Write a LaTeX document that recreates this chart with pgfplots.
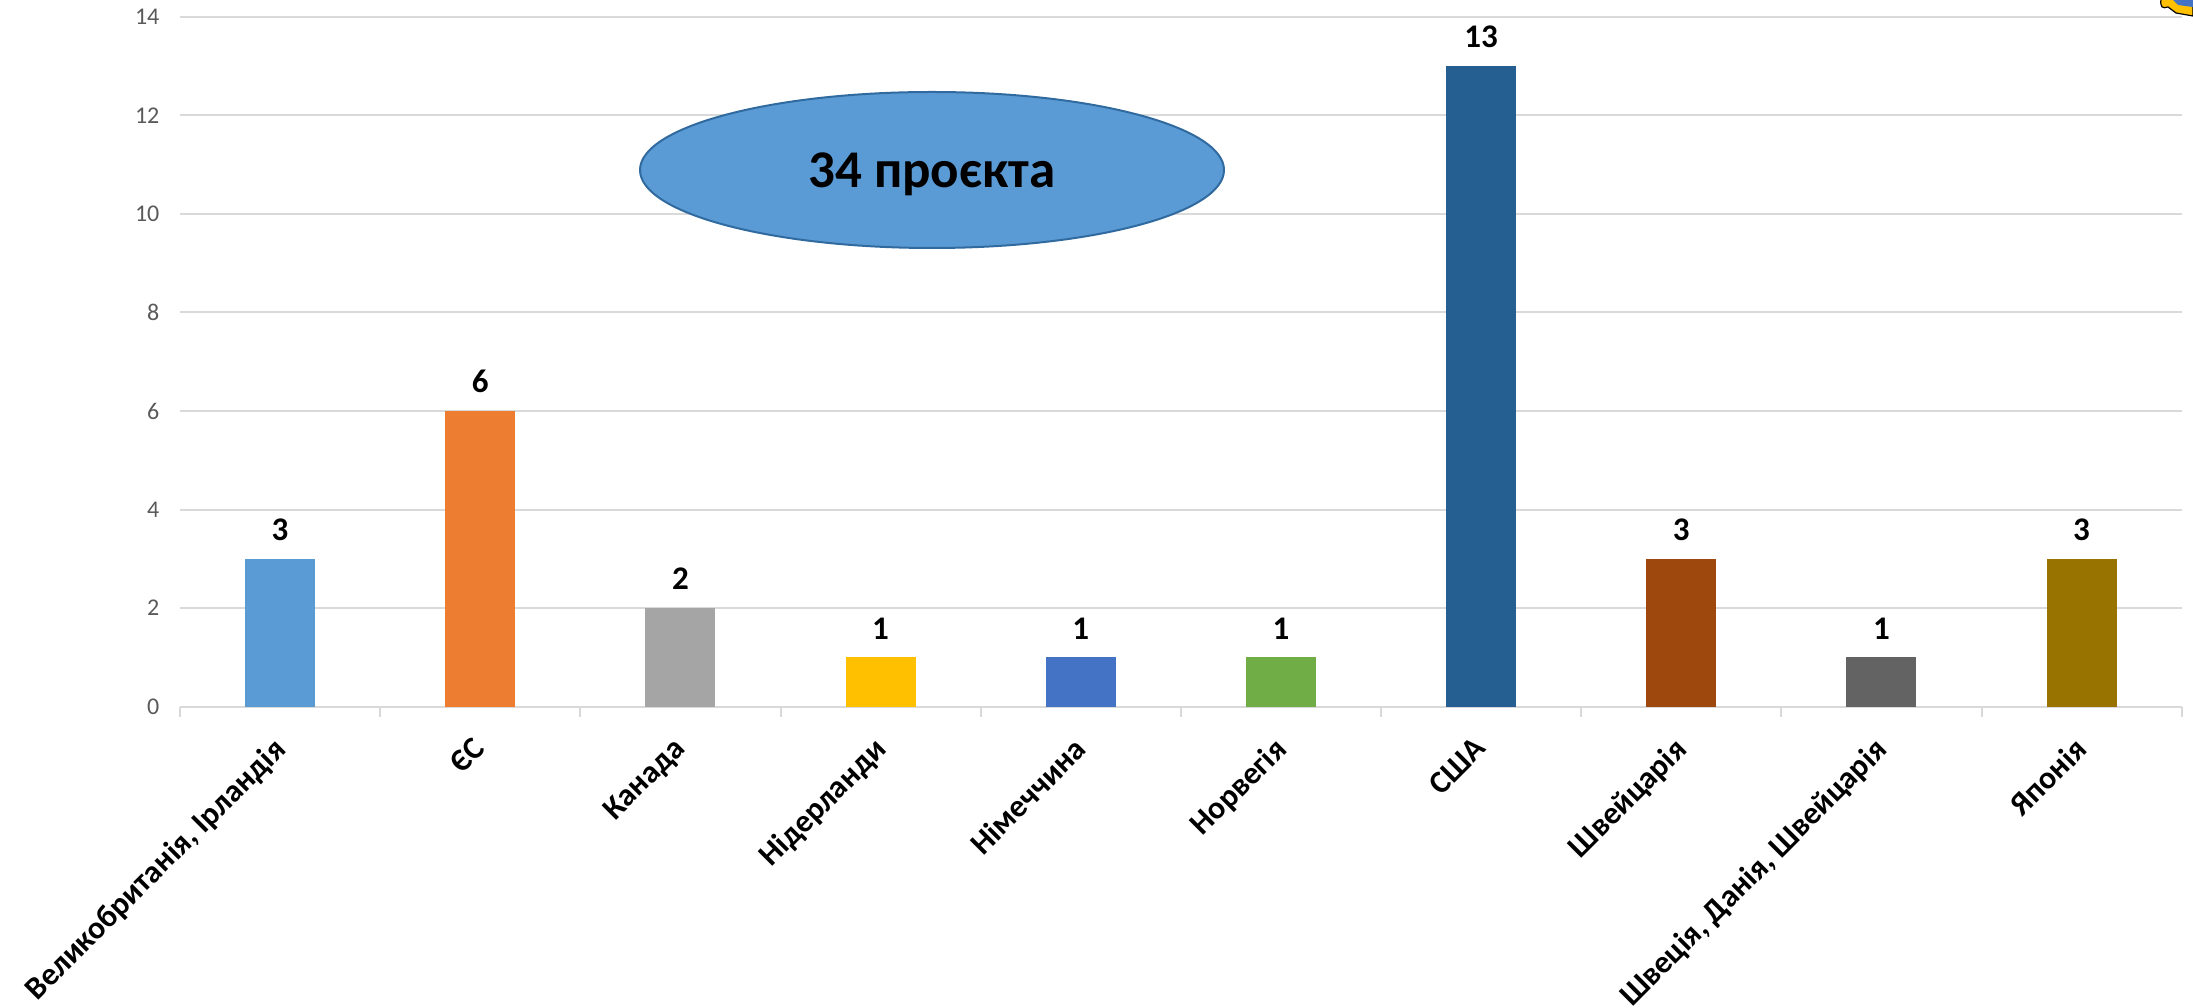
\documentclass[border=0pt]{standalone}
\usepackage{pgfplots}
\pgfplotsset{compat=1.18}
\usepackage{fontspec}
\setmainfont{Carlito}
\definecolor{c0}{HTML}{5B9BD5}
\definecolor{c1}{HTML}{ED7D31}
\definecolor{c2}{HTML}{A5A5A5}
\definecolor{c3}{HTML}{FFC000}
\definecolor{c4}{HTML}{4472C4}
\definecolor{c5}{HTML}{70AD47}
\definecolor{c6}{HTML}{255E91}
\definecolor{c7}{HTML}{9E480E}
\definecolor{c8}{HTML}{636363}
\definecolor{c9}{HTML}{997300}
\definecolor{gridc}{HTML}{D9D9D9}
\definecolor{tickc}{HTML}{595959}
\begin{document}
\begin{tikzpicture}
\path[use as bounding box] (0pt,0pt) rectangle (1096.5pt,503.5pt);
\begin{axis}[
  at={(90pt,150.15pt)}, anchor=south west,
  scale only axis, width=1000.8pt, height=345pt,
  xmin=-0.5, xmax=9.5, ymin=0, ymax=14,
  axis lines=left, x axis line style={gridc,line width=1.2pt,-}, y axis line style={draw=none},
  ytick={0,2,...,14}, ymajorgrids, grid style={gridc,line width=1pt},
  major y tick style={draw=none},
  xtick={0,...,9},
  xticklabels={{Великобританія, Ірландія},ЄС,Канада,Нідерланди,Німеччина,Норвегія,США,Швейцарія,{Швеція, Данія, Швейцарія},Японія},
  x tick label style={rotate=45,anchor=north east,font=\fontsize{15.9pt}{18pt}\selectfont\bfseries,black,inner sep=0pt,yshift=-4pt,xshift=-10pt},
  y tick label style={font=\fontsize{12pt}{14pt}\selectfont,tickc,xshift=-2.5pt},
  /pgf/number format/assume math mode=true,
  major x tick style={draw=none},
  minor xtick={-0.5,0.5,...,9.5},
  minor tick length=5pt,
  minor x tick style={gridc,line width=1pt},
  tick align=outside,
  ybar, bar width=35pt, bar shift=0pt,
  clip=false,
  nodes near coords,
  every node near coord/.append style={font=\fontsize{16.5pt}{18pt}\selectfont\bfseries,black,inner sep=0pt,yshift=9pt},
]
\addplot[fill=c0,draw=none] coordinates {(0,3)};
\addplot[fill=c1,draw=none] coordinates {(1,6)};
\addplot[fill=c2,draw=none] coordinates {(2,2)};
\addplot[fill=c3,draw=none] coordinates {(3,1)};
\addplot[fill=c4,draw=none] coordinates {(4,1)};
\addplot[fill=c5,draw=none] coordinates {(5,1)};
\addplot[fill=c6,draw=none] coordinates {(6,13)};
\addplot[fill=c7,draw=none] coordinates {(7,3)};
\addplot[fill=c8,draw=none] coordinates {(8,1)};
\addplot[fill=c9,draw=none] coordinates {(9,3)};
\end{axis}
\draw[fill=c0,draw=c6!80!c0,line width=1pt] (466pt,418.5pt) ellipse [x radius=146pt, y radius=39pt];
\node[font=\fontsize{26.5pt}{30pt}\selectfont\bfseries,black] at (466pt,416.5pt) {34 проєкта};
\begin{scope}
\clip (1060pt,490pt) rectangle (1096.5pt,503.5pt);
\fill[c3,draw=black,line width=0.6pt] (1096.5pt,495.5pt) -- (1088pt,497pt) -- (1084pt,500pt) .. controls (1081pt,499pt) and (1080pt,500pt) .. (1080.5pt,504pt) -- (1096.5pt,504pt) -- cycle;
\fill[c4] (1096.5pt,500pt) -- (1089pt,501pt) -- (1086pt,504pt) -- (1096.5pt,504pt) -- cycle;
\end{scope}
\end{tikzpicture}
\end{document}
